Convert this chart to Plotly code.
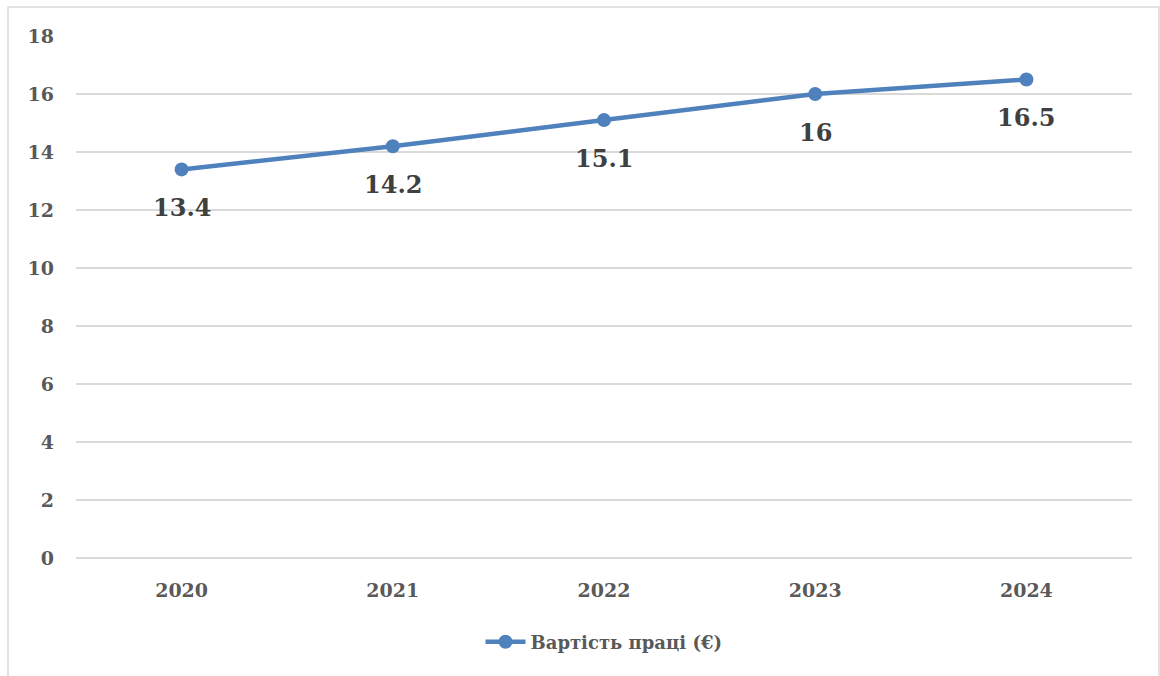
import plotly.graph_objects as go

years = ["2020", "2021", "2022", "2023", "2024"]
values = [13.4, 14.2, 15.1, 16, 16.5]
labels = ["13.4", "14.2", "15.1", "16", "16.5"]
series_name = "Вартість праці (€)"
y_ticks = [0, 2, 4, 6, 8, 10, 12, 14, 16, 18]

W, H = 1160, 676
L, R, T, B = 76, 28, 36, 118
pw, ph = W - L - R, H - T - B

FONT = "DejaVu Serif"
BLUE = "#4F81BD"

fig = go.Figure()
fig.add_trace(go.Scatter(
    x=years, y=values, mode="lines+markers", name=series_name,
    line=dict(color=BLUE, width=4.5),
    marker=dict(color=BLUE, size=14),
    hoverinfo="x+y",
))

for i, (y, t) in enumerate(zip(values, labels)):
    fig.add_annotation(x=i, y=y, xref="x", yref="y", text=t, showarrow=False,
                       yshift=-38,
                       font=dict(family=FONT, size=24, color="#404040", weight="bold"))

tick_font = dict(family=FONT, size=19, color="#595959", weight="bold")

fig.update_layout(
    width=W, height=H,
    margin=dict(l=L, r=R, t=T, b=B),
    paper_bgcolor="white", plot_bgcolor="white",
    font=dict(family=FONT, color="#595959"),
    showlegend=True,
    legend=dict(orientation="h", x=0.5, xanchor="center",
                y=(0 - (642 - (T + ph))) / ph, yanchor="middle",
                font=dict(family=FONT, size=18, color="#595959", weight="bold"),
                itemwidth=40),
    xaxis=dict(type="category", range=[-0.5, 4.5], showgrid=False,
               showline=False, zeroline=False, ticks="",
               tickfont=tick_font, ticklabelstandoff=19),
    yaxis=dict(range=[0, 18], tickvals=y_ticks, showgrid=True,
               gridcolor="#D9D9D9", gridwidth=1.5, zeroline=True,
               zerolinecolor="#D9D9D9", zerolinewidth=1.5, showline=False,
               ticks="", tickfont=tick_font, ticklabelstandoff=21),
    shapes=[dict(type="rect", xref="paper", yref="paper",
                 x0=(8 - L) / pw, x1=(1159 - L) / pw,
                 y0=(T + ph - 690) / ph, y1=(T + ph - 7) / ph,
                 line=dict(color="#D9D9D9", width=1.5), fillcolor="rgba(0,0,0,0)",
                 layer="below")],
)

fig.write_html("out.html")
